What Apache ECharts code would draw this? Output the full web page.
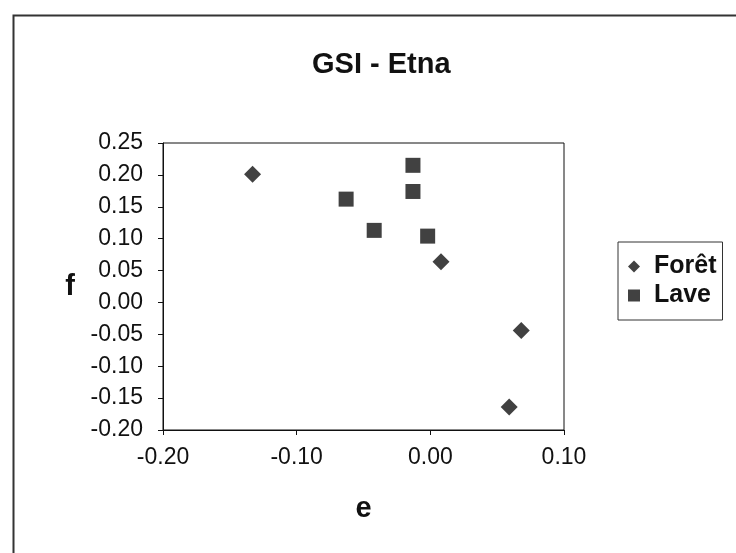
<!DOCTYPE html>
<html>
<head>
<meta charset="utf-8">
<script src="https://cdn.jsdelivr.net/npm/echarts@6/dist/echarts.min.js"></script>
<style>html,body{margin:0;padding:0;background:#fff}#c{width:736px;height:553px}</style>
</head>
<body>
<div id="c"></div>
<script>
var titleText = 'GSI - Etna';
var xName = 'e';
var yName = 'f';
var foretE = [-0.133, 0.008, 0.068, 0.059];
var foretF = [0.201, 0.064, -0.044, -0.164];
var laveE = [-0.063, -0.042, -0.013, -0.013, -0.002];
var laveF = [0.162, 0.113, 0.215, 0.174, 0.104];
var seriesNames = ['Forêt', 'Lave'];

var FONT = 'Liberation Sans, Arial, sans-serif';
function pairs(a, b) { return a.map(function (v, i) { return [v, b[i]]; }); }

var chart = echarts.init(document.getElementById('c'), null, {renderer: 'canvas'});
chart.setOption({
  backgroundColor: '#fff',
  animation: false,
  graphic: [{
    type: 'rect', left: 11, top: 13,
    shape: {width: 800, height: 700},
    style: {fill: 'none', stroke: '#333', lineWidth: 2}
  }],
  title: {
    text: titleText, left: 307, top: 45,
    textStyle: {fontFamily: FONT, fontSize: 29, fontWeight: 'bold', color: '#111'}
  },
  legend: {
    orient: 'vertical', left: 618, top: 242,
    padding: [12, 6, 12, 10],
    itemGap: 4, itemWidth: 12, itemHeight: 12,
    borderColor: '#333', borderWidth: 1,
    textStyle: {fontFamily: FONT, fontSize: 25, fontWeight: 'bold', color: '#111', padding: [0, 0, 0, 9]},
    data: [{name: seriesNames[0], icon: 'diamond'}, {name: seriesNames[1], icon: 'rect'}]
  },
  grid: {
    left: 163, top: 143, width: 401, height: 287,
    show: true, borderColor: '#111', borderWidth: 1, backgroundColor: '#fff'
  },
  xAxis: {
    type: 'value', min: -0.2, max: 0.1, interval: 0.1,
    name: xName, nameLocation: 'middle', nameGap: 64,
    nameTextStyle: {fontFamily: FONT, fontSize: 29, fontWeight: 'bold', color: '#111'},
    axisLine: {show: true, onZero: false, lineStyle: {color: '#111', width: 1}},
    axisTick: {show: true, inside: false, length: 5, lineStyle: {color: '#111'}},
    splitLine: {show: false},
    axisLabel: {fontFamily: FONT, fontSize: 23, color: '#111', margin: 16,
      formatter: function (v) { return v.toFixed(2); }}
  },
  yAxis: {
    type: 'value', min: -0.2, max: 0.25, interval: 0.05,
    name: yName, nameLocation: 'middle', nameGap: 88, nameRotate: 0,
    nameTextStyle: {fontFamily: FONT, fontSize: 29, fontWeight: 'bold', color: '#111', padding: [10, 0, 0, 0]},
    axisLine: {show: true, onZero: false, lineStyle: {color: '#111', width: 1}},
    axisTick: {show: true, inside: false, length: 5, lineStyle: {color: '#111'}},
    splitLine: {show: false},
    axisLabel: {fontFamily: FONT, fontSize: 23, color: '#111', margin: 20,
      formatter: function (v) { return v.toFixed(2); }}
  },
  series: [{
    name: seriesNames[0], type: 'scatter', symbol: 'diamond', symbolSize: 17,
    itemStyle: {color: '#111'}, data: pairs(foretE, foretF)
  }, {
    name: seriesNames[1], type: 'scatter', symbol: 'rect', symbolSize: 15,
    itemStyle: {color: '#111'}, data: pairs(laveE, laveF)
  }]
});
</script>
</body>
</html>
